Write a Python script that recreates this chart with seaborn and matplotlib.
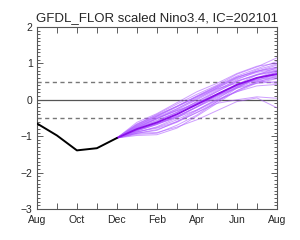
import numpy as np
import pandas as pd
import matplotlib
matplotlib.use("Agg")
import matplotlib.pyplot as plt
import seaborn as sns

# months counted from Aug (0) to the following Aug (12)
obs_months = [0, 1, 2, 3, 4]
obs_values = [-0.65, -0.98, -1.39, -1.33, -1.05]

fcst_months = [4, 5, 6, 7, 8, 9, 10, 11, 12]
members = [
    [-1.05, -0.68, -0.40, -0.12, 0.15, 0.40, 0.70, 0.90, 1.15],
    [-1.05, -0.78, -0.58, -0.35, -0.05, 0.25, 0.55, 0.78, 0.95],
    [-1.05, -0.92, -0.90, -0.75, -0.55, -0.30, -0.05, 0.05, -0.22],
    [-1.05, -0.88, -0.78, -0.60, -0.35, -0.10, 0.00, 0.08, 0.04],
    [-1.05, -0.72, -0.45, -0.18, 0.10, 0.38, 0.65, 0.85, 1.05],
    [-1.05, -0.80, -0.60, -0.35, -0.10, 0.15, 0.40, 0.60, 0.70],
    [-1.05, -0.98, -0.96, -0.78, -0.45, -0.10, 0.25, 0.50, 0.60],
    [-1.05, -0.62, -0.38, -0.08, 0.22, 0.45, 0.72, 0.92, 1.00],
    [-1.05, -0.84, -0.66, -0.45, -0.20, 0.05, 0.32, 0.45, 0.50],
    [-1.05, -0.76, -0.52, -0.28, 0.00, 0.28, 0.52, 0.68, 0.80],
    [-1.05, -0.92, -0.82, -0.62, -0.35, -0.05, 0.25, 0.48, 0.65],
    [-1.05, -0.70, -0.46, -0.20, 0.08, 0.35, 0.62, 0.78, 0.90],
    [-1.05, -0.86, -0.68, -0.48, -0.18, 0.12, 0.38, 0.58, 0.75],
    [-1.05, -0.78, -0.52, -0.25, 0.05, 0.30, 0.45, 0.52, 0.45],
    [-1.05, -0.95, -0.92, -0.70, -0.42, -0.05, 0.32, 0.60, 0.80],
    [-1.05, -0.75, -0.52, -0.30, -0.08, 0.15, 0.40, 0.55, 0.62],
    [-1.05, -0.66, -0.42, -0.18, 0.08, 0.32, 0.58, 0.75, 0.85],
    [-1.05, -0.90, -0.74, -0.50, -0.20, 0.12, 0.42, 0.68, 0.88],
    [-1.05, -0.82, -0.62, -0.40, -0.12, 0.12, 0.32, 0.52, 0.72],
    [-1.05, -0.78, -0.56, -0.34, -0.05, 0.22, 0.50, 0.68, 0.78],
    [-1.05, -0.88, -0.76, -0.55, -0.28, 0.00, 0.22, 0.38, 0.42],
    [-1.05, -0.72, -0.48, -0.25, 0.02, 0.32, 0.60, 0.82, 0.98],
    [-1.05, -0.82, -0.66, -0.48, -0.28, 0.02, 0.35, 0.60, 0.68],
    [-1.05, -0.85, -0.68, -0.42, -0.10, 0.22, 0.50, 0.70, 0.82],
    [-1.05, -0.74, -0.50, -0.30, -0.12, 0.10, 0.36, 0.56, 0.66],
    [-1.05, -0.92, -0.84, -0.60, -0.30, -0.02, 0.22, 0.46, 0.58],
    [-1.05, -0.68, -0.44, -0.18, 0.10, 0.36, 0.62, 0.78, 0.88],
    [-1.05, -0.84, -0.66, -0.46, -0.20, 0.08, 0.34, 0.58, 0.76],
]

tick_months = [0, 2, 4, 6, 8, 10, 12]
tick_labels = ['Aug', 'Oct', 'Dec', 'Feb', 'Apr', 'Jun', 'Aug']

# long-form table for seaborn
rows = []
for i, m in enumerate(members):
    for mon, v in zip(fcst_months, m):
        rows.append({'month': mon, 'nino34': v, 'member': i})
ens = pd.DataFrame(rows)
obs = pd.DataFrame({'month': obs_months, 'nino34': obs_values})

sns.set_style("ticks")
plt.rcParams['font.family'] = ['Liberation Sans', 'DejaVu Sans']

fig = plt.figure(figsize=(3, 2.4), dpi=100)
ax = fig.add_axes([0.123, 0.129, 0.8, 0.759])

ax.axhline(0, color='#555555', lw=0.9, zorder=1)
ax.axhline(0.5, color='#777777', lw=1.0, ls=(0, (3, 2.5)), zorder=1)
ax.axhline(-0.5, color='#777777', lw=1.0, ls=(0, (3, 2.5)), zorder=1)

sns.lineplot(data=ens, x='month', y='nino34', units='member', estimator=None,
             color='#b060ff', alpha=0.6, lw=0.7, ax=ax, zorder=2)
sns.lineplot(data=ens, x='month', y='nino34', estimator='mean', errorbar=None,
             color='#8a10e8', lw=1.3, ax=ax, zorder=3)
sns.lineplot(data=obs, x='month', y='nino34', color='black', lw=1.4, ax=ax, zorder=4)

ax.set_xlim(0, 12)
ax.set_ylim(-3, 2)
ax.set_xticks(tick_months)
ax.set_xticklabels(tick_labels)
ax.set_xticks(range(13), minor=True)
ax.set_yticks([-3, -2, -1, 0, 1, 2])
ax.set_yticklabels(['\u22123', '\u22122', '\u22121', '0', '1', '2'])
ax.set_yticks(np.arange(-3, 2.01, 0.1), minor=True)
ax.tick_params(which='both', direction='in', top=True, right=True,
               labelsize=7.5, width=0.6, color='#444444')
ax.tick_params(axis='x', pad=4)
ax.tick_params(axis='y', pad=3)
ax.tick_params(which='major', length=4)
ax.tick_params(axis='x', which='minor', length=4)
ax.tick_params(axis='y', which='minor', length=2)
ax.set_xlabel('')
ax.set_ylabel('')
for s in ax.spines.values():
    s.set_linewidth(0.8)
    s.set_color('#555555')
ax.set_title('GFDL_FLOR scaled Nino3.4, IC=202101', fontsize=9.5, pad=4)

fig.savefig('out.png', dpi=100)
